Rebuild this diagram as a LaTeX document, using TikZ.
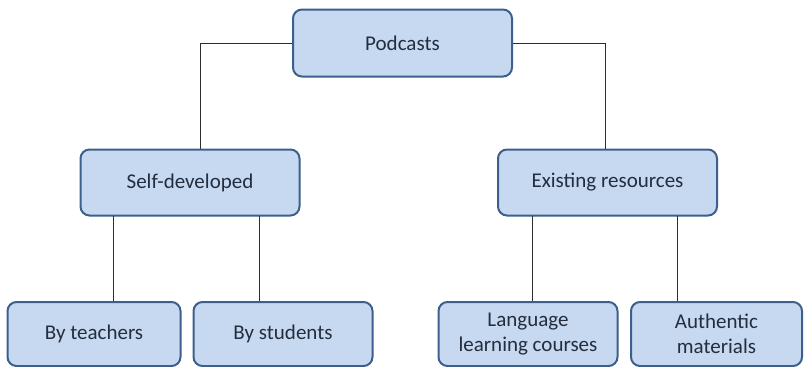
\documentclass[tikz,border=0pt]{standalone}
\usepackage{fontspec}
\setmainfont{Carlito}
\definecolor{boxfill}{RGB}{198,217,241}
\definecolor{boxline}{RGB}{60,95,140}
\definecolor{txt}{RGB}{35,45,62}
\definecolor{conn}{RGB}{45,45,45}
\begin{document}
\begin{tikzpicture}[x=1pt,y=-1pt,
  box/.style={draw=boxline, line width=2pt, fill=boxfill, rounded corners=9pt,
    text=txt, font=\fontsize{21}{25}\selectfont, align=center, inner sep=0pt},
  conn/.style={draw=conn, line width=0.9pt}]
\useasboundingbox (0,0) rectangle (804,367);
\clip (0,0) rectangle (804,367);
\node[box, minimum width=219pt, minimum height=67pt] (pod) at (402.5,43) {Podcasts};
\node[box, minimum width=219pt, minimum height=66pt] (self) at (190,182.5) {Self-developed};
\node[box, minimum width=219pt, minimum height=66pt] (exist) at (607.5,182.5) {Existing resources};
\node[box, minimum width=173pt, minimum height=64pt] (teach) at (94,334) {By teachers};
\node[box, minimum width=179pt, minimum height=64pt] (stud) at (283,334) {By students};
\node[box, minimum width=179pt, minimum height=64pt] (lang) at (528,334) {Language\\learning courses};
\node[box, minimum width=171pt, minimum height=64pt] (auth) at (716.5,334) {Authentic\\materials};
\coordinate (pl) at (200,43);
\coordinate (pr) at (605,43);
\draw[conn] (pod.west) -- (pl) -- (self.north -| pl);
\draw[conn] (pod.east) -- (pr) -- (exist.north -| pr);
\coordinate (s1) at (113,216);
\coordinate (s2) at (259,216);
\coordinate (e1) at (532,216);
\coordinate (e2) at (677,216);
\draw[conn] (s1) -- (teach.north -| s1);
\draw[conn] (s2) -- (stud.north -| s2);
\draw[conn] (e1) -- (lang.north -| e1);
\draw[conn] (e2) -- (auth.north -| e2);
\end{tikzpicture}
\end{document}
